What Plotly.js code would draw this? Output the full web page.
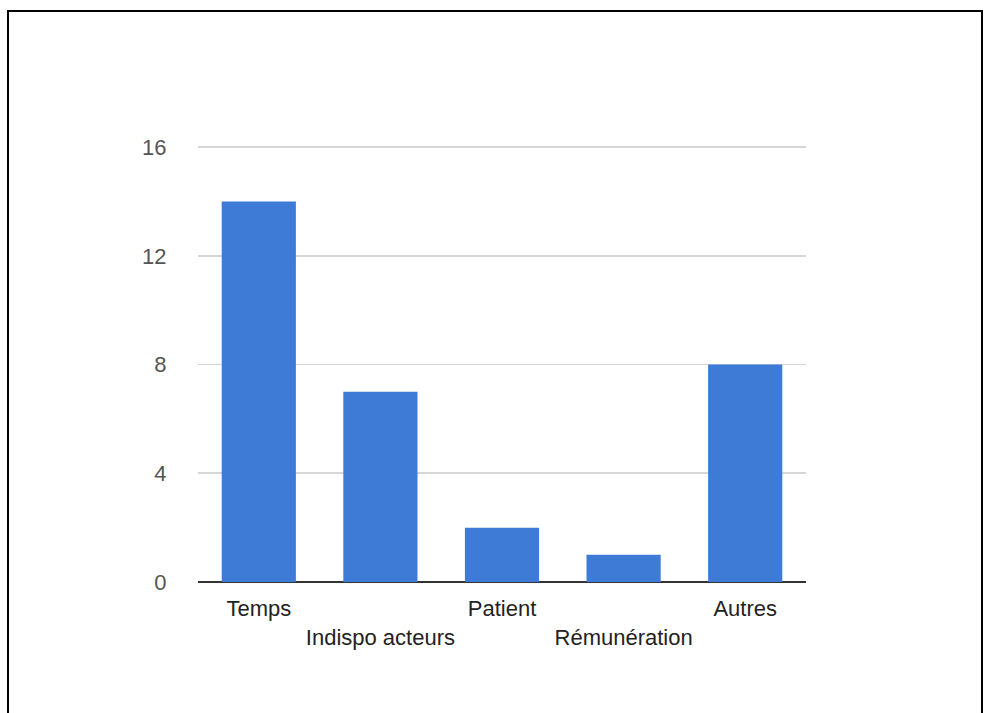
<!DOCTYPE html>
<html>
<head>
<meta charset="utf-8">
<script src="https://cdn.plot.ly/plotly-3.0.1.min.js"></script>
<style>
  html, body { margin: 0; padding: 0; background: #fff; overflow: hidden; }
  #chart { position: absolute; left: 0; top: 0; width: 984px; height: 713px; }
  #frame { position: absolute; left: 7px; top: 10px; width: 972px; height: 720px;
           border-left: 2px solid #000; border-top: 2px solid #000; border-right: 2px solid #000;
           pointer-events: none; }
</style>
</head>
<body>
<div id="chart"></div>
<div id="frame"></div>
<script>
const categories = ["Temps", "Indispo acteurs", "Patient", "Rémunération", "Autres"];
const values = [14, 7, 2, 1, 8];
const yTicks = [0, 4, 8, 12, 16];

// staggered labels: odd categories pushed to a second line
const tickText = categories.map((c, i) => (i % 2 === 1 ? "<br>" + c : c));

const trace = {
  type: "bar",
  x: categories,
  y: values,
  marker: { color: "#3e7bd7" },
  hoverinfo: "x+y"
};

const layout = {
  width: 984,
  height: 713,
  margin: { l: 198, r: 178, t: 146, b: 131, pad: 0 },
  paper_bgcolor: "#ffffff",
  plot_bgcolor: "#ffffff",
  bargap: 0.39,
  showlegend: false,
  font: { family: "Liberation Sans, Arial, sans-serif" },
  xaxis: {
    type: "category",
    tickvals: categories,
    ticktext: tickText,
    tickangle: 0,
    showgrid: false,
    showline: false,
    zeroline: false,
    ticks: "outside",
    ticklen: 7,
    tickcolor: "rgba(0,0,0,0)",
    tickfont: { family: "Liberation Sans, Arial, sans-serif", size: 22, color: "#222222" }
  },
  yaxis: {
    range: [0, 16.04],
    tickvals: yTicks,
    ticktext: yTicks.map(String),
    showgrid: true,
    gridcolor: "#d6d6d6",
    gridwidth: 1.6,
    zeroline: true,
    zerolinecolor: "#333333",
    zerolinewidth: 2,
    showline: false,
    ticks: "outside",
    ticklen: 26,
    tickcolor: "rgba(0,0,0,0)",
    tickfont: { family: "Liberation Sans, Arial, sans-serif", size: 22, color: "#555555" }
  }
};

Plotly.newPlot("chart", [trace], layout, { displayModeBar: false, staticPlot: true });
</script>
</body>
</html>
